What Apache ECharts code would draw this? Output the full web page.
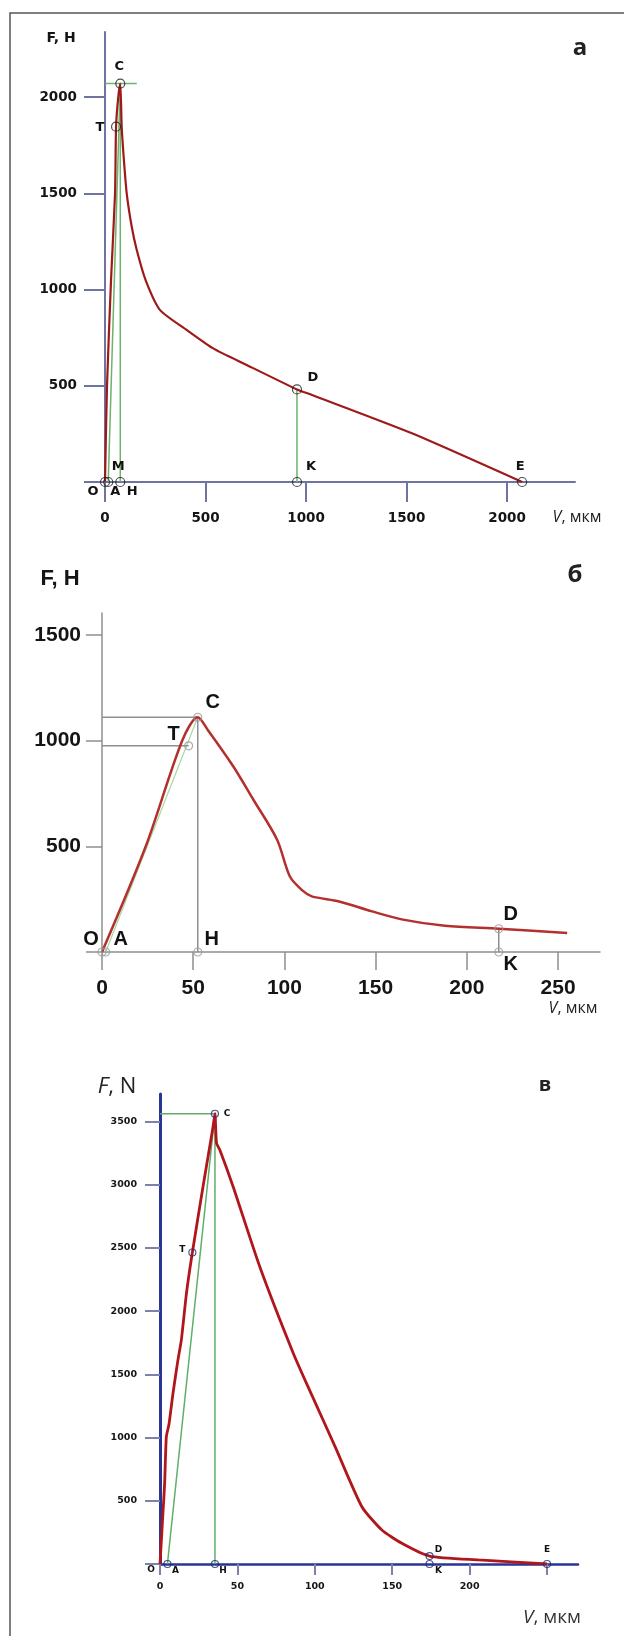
<!DOCTYPE html>
<html>
<head>
<meta charset="utf-8">
<script src="https://cdn.jsdelivr.net/npm/echarts@6/dist/echarts.min.js"></script>
<style>
  html, body { margin: 0; padding: 0; background: #fff; }
  #chart { width: 624px; height: 1636px; }
</style>
</head>
<body>
<div id="chart"></div>
<script>
// ---- панель а ----
const curveVA = [0, 10, 30, 50, 55, 66, 76, 83, 94, 108, 133, 158, 202, 274, 406, 538, 705, 955, 1030, 1527, 2075];
const curveFA = [0, 500, 1050, 1500, 1846, 2000, 2070, 1846, 1673, 1500, 1326, 1205, 1049, 893, 790, 694, 608, 481, 452, 253, 0];
const letterA = ['O', 'A', 'M', 'H', 'T', 'C', 'D', 'K', 'E'];
const letterVA = [0, 16, 76, 76, 55, 76, 955, 955, 2075];
const letterFA = [0, 0, 0, 0, 1846, 2070, 481, 0, 0];
const circleVA = [0, 16, 76, 55, 76, 955, 955, 2075];
const circleFA = [0, 0, 0, 1846, 2070, 481, 0, 0];
const guideA = [[[0, 2070], [158, 2070]], [[76, 0], [76, 2070]], [[16, 0], [76, 2070]], [[955, 0], [955, 481]]];
const xTicksA = [0, 500, 1000, 1500, 2000];
const yTicksA = [0, 500, 1000, 1500, 2000];

// ---- панель б ----
const curveVB = [0, 24, 44, 52.5, 58, 72, 83, 96, 103, 110, 115, 130, 148, 165, 188, 217.5, 255];
const curveFB = [0, 500, 1000, 1110, 1050, 877, 720, 531, 357, 290, 263, 239, 192, 153, 124, 110, 90];
const letterB = ['O', 'A', 'H', 'T', 'C', 'D', 'K'];
const letterVB = [0, 2, 52.5, 47.5, 52.5, 217.5, 217.5];
const letterFB = [0, 0, 0, 975, 1110, 110, 0];
const grayB = [[[0, 1110], [52.5, 1110]], [[0, 975], [47.5, 975]], [[52.5, 0], [52.5, 1110]], [[217.5, 0], [217.5, 110]]];
const greenB = [[[2, 0], [52.5, 1110]]];
const xTicksB = [0, 50, 100, 150, 200, 250];
const yTicksB = [0, 500, 1000, 1500];

// ---- панель в ----
const curveVC = [0, 1.9, 3, 4.1, 5.8, 8.4, 11.6, 13.8, 17.1, 20.9, 27.8, 34.3, 35.5, 36.5, 38.6, 47.2, 64.4, 86, 98, 113.1, 130.4, 143.3, 156.2, 174.1, 205.8, 250];
const curveFC = [0, 401, 638, 1007, 1105, 1350, 1614, 1772, 2142, 2463, 2985, 3460, 3560, 3328, 3275, 2985, 2352, 1669, 1337, 928, 453, 269, 164, 63, 32, 0];
const letterC = ['O', 'A', 'H', 'T', 'C', 'D', 'K', 'E'];
const letterVC = [0, 4.8, 35.5, 20.9, 35.5, 174.1, 174.1, 250];
const letterFC = [0, 0, 0, 2463, 3560, 63, 0, 0];
const circleVC = [4.8, 35.5, 20.9, 35.5, 174.1, 174.1, 250];
const circleFC = [0, 0, 2463, 3560, 63, 0, 0];
const guideC = [[[0, 3560], [35.5, 3560]], [[35.5, 0], [35.5, 3560]], [[4.8, 0], [35.5, 3560]]];
const xTicksC = [0, 50, 100, 150, 200, 250];
const xLabelsC = [0, 50, 100, 150, 200];
const yTicksC = [0, 500, 1000, 1500, 2000, 2500, 3000, 3500];

// смещения подписей точек (px)
const offA = { O: [-12, 10], A: [7, 10], M: [-2, -15], H: [12, 10], T: [-16, 1], C: [-1, -17], D: [16, -12], K: [14, -15], E: [-2, -15] };
const offB = { O: [-11, -13], A: [15, -13], H: [14, -13], T: [-15, -11], C: [15, -15], D: [12, -14], K: [12, 12] };
const offC = { O: [-9, 6], A: [8, 7], H: [8, 7], T: [-10, -3], C: [12, 0], D: [9, -6], K: [9, 7], E: [0, -14] };

const fontA = 'DejaVu Sans';
const fontB = '"Liberation Sans", Arial, sans-serif';

const chart = echarts.init(document.getElementById('chart'));

function pairs(xs, ys) {
  return xs.map((x, i) => [x, ys[i]]);
}

function axis(gi, max, ticks, labels, o) {
  return {
    type: 'value', gridIndex: gi, min: 0, max: max,
    splitLine: { show: false },
    axisLine: { lineStyle: { color: o.lineColor, width: o.lineWidth } },
    axisTick: { customValues: ticks, length: o.tickLen, lineStyle: { color: o.tickColor, width: o.tickWidth } },
    axisLabel: {
      customValues: labels, margin: o.margin, color: '#151515',
      fontFamily: o.font, fontSize: o.fontSize, fontWeight: 'bold',
      formatter: v => String(v)
    }
  };
}

function curve(gi, data, color, width, z, smooth) {
  return {
    type: 'line', xAxisIndex: gi, yAxisIndex: gi, data: data,
    symbol: 'none', smooth: smooth || false, silent: true, z: z,
    lineStyle: { color: color, width: width }
  };
}

function circles(gi, xs, ys, size, stroke, bw) {
  return {
    type: 'scatter', xAxisIndex: gi, yAxisIndex: gi, data: pairs(xs, ys),
    symbol: 'circle', symbolSize: size, silent: true, z: 5,
    itemStyle: { color: 'rgba(255,255,255,0)', borderColor: stroke, borderWidth: bw }
  };
}

function letters(gi, names, xs, ys, offs, font, size) {
  return {
    type: 'scatter', xAxisIndex: gi, yAxisIndex: gi, symbolSize: 1, silent: true, z: 6,
    itemStyle: { color: 'rgba(0,0,0,0)' },
    data: names.map((n, i) => ({
      value: [xs[i], ys[i]], name: n,
      label: { offset: offs[n] }
    })),
    label: {
      show: true, position: 'inside', formatter: p => p.name,
      color: '#111', textBorderWidth: 0, textBorderColor: 'transparent', opacity: 1,
      fontFamily: font, fontSize: size, fontWeight: 'bold'
    }
  };
}

const series = [];
guideA.forEach(s => series.push(curve(0, s, '#6cb36c', 1.5, 3)));
series.push(curve(0, pairs(curveVA, curveFA), '#9e1a1a', 2.2, 4, 0.2));
series.push(circles(0, circleVA, circleFA, 9, '#222', 1.2));
series.push(letters(0, letterA, letterVA, letterFA, offA, fontA, 13));

greenB.forEach(s => series.push(curve(1, s, '#a8d8a0', 1.2, 3)));
grayB.forEach(s => series.push(curve(1, s, '#8f8f8f', 1.5, 3)));
series.push(curve(1, pairs(curveVB, curveFB), '#b3302e', 2.5, 4, 0.3));
series.push(circles(1, letterVB, letterFB, 8, '#9a9a9a', 1.2));
series.push(letters(1, letterB, letterVB, letterFB, offB, fontB, 20));

guideC.forEach(s => series.push(curve(2, s, '#5fae6a', 1.5, 3)));
series.push(curve(2, pairs(curveVC, curveFC), '#b0161b', 2.8, 4, 0.2));
series.push(circles(2, circleVC, circleFC, 7, '#1f2a70', 1.2));
series.push(letters(2, letterC, letterVC, letterFC, offC, fontA, 9));

const styleA = { lineColor: '#6f73a0', lineWidth: 2, tickColor: '#6f73a0', tickWidth: 2, font: fontA, fontSize: 13.5 };
const styleB = { lineColor: '#8f8f8f', lineWidth: 1.5, tickColor: '#8f8f8f', tickWidth: 1.5, font: fontB, fontSize: 21 };
const styleC = { lineColor: '#283593', lineWidth: 3, tickColor: '#7d82aa', tickWidth: 2, font: fontA, fontSize: 9.5 };

const option = {
  animation: false,
  backgroundColor: '#fff',
  grid: [
    { left: 105, top: 32, width: 470, height: 450 },
    { left: 102, top: 613, width: 498, height: 339 },
    { left: 160, top: 1094, width: 418, height: 470 }
  ],
  xAxis: [
    axis(0, 2338, xTicksA, xTicksA, Object.assign({}, styleA, { tickLen: 20, margin: 29 })),
    axis(1, 273, xTicksB, xTicksB, Object.assign({}, styleB, { tickLen: 18, margin: 26 })),
    axis(2, 270, xTicksC, xLabelsC, Object.assign({}, styleC, { lineWidth: 2.5, tickLen: 11, margin: 18 }))
  ],
  yAxis: [
    axis(0, 2338, yTicksA, yTicksA.slice(1), Object.assign({}, styleA, { tickLen: 21, margin: 28 })),
    axis(1, 1603, yTicksB, yTicksB.slice(1), Object.assign({}, styleB, { tickLen: 16, margin: 21 })),
    axis(2, 3716, yTicksC, yTicksC.slice(1), Object.assign({}, styleC, { tickLen: 15, margin: 23 }))
  ],
  series: series,
  graphic: [
    { type: 'polyline', silent: true, shape: { points: [[10, 1636], [10, 13], [624, 13]] },
      style: { stroke: '#555', lineWidth: 1.5, fill: null } },
    { type: 'text', x: 61, y: 38, style: { text: 'F, H', font: 'bold 14px DejaVu Sans', fill: '#151515', align: 'center', verticalAlign: 'middle' } },
    { type: 'text', x: 580, y: 48, style: { text: 'а', font: 'bold 24px "Open Sans"', fill: '#222', align: 'center', verticalAlign: 'middle' } },
    { type: 'text', x: 577, y: 517, style: { text: '{i|V}, мкм', font: '16px "Open Sans"', fill: '#222', align: 'center', verticalAlign: 'middle',
      rich: { i: { fontStyle: 'italic', fontFamily: 'Open Sans', fontSize: 16, fill: '#222' } } } },

    { type: 'text', x: 60, y: 579, style: { text: 'F, H', font: 'bold 22px ' + fontB, fill: '#151515', align: 'center', verticalAlign: 'middle' } },
    { type: 'text', x: 575, y: 575, style: { text: 'б', font: 'bold 24px "Open Sans"', fill: '#222', align: 'center', verticalAlign: 'middle' } },
    { type: 'text', x: 573, y: 1008, style: { text: '{i|V}, мкм', font: '16px "Open Sans"', fill: '#222', align: 'center', verticalAlign: 'middle',
      rich: { i: { fontStyle: 'italic', fontFamily: 'Open Sans', fontSize: 16, fill: '#222' } } } },

    { type: 'text', x: 117, y: 1087, style: { text: '{i|F}, N', font: '22px "Open Sans"', fill: '#222', align: 'center', verticalAlign: 'middle',
      rich: { i: { fontStyle: 'italic', fontFamily: 'Open Sans', fontSize: 22, fill: '#222' } } } },
    { type: 'text', x: 545, y: 1085, style: { text: 'в', font: 'bold 20px "Open Sans"', fill: '#222', align: 'center', verticalAlign: 'middle' } },
    { type: 'text', x: 552, y: 1618, style: { text: '{i|V}, мкм', font: '19px "Open Sans"', fill: '#333', align: 'center', verticalAlign: 'middle',
      rich: { i: { fontStyle: 'italic', fontFamily: 'Open Sans', fontSize: 19, fill: '#333' } } } }
  ]
};

chart.setOption(option);
</script>
</body>
</html>
